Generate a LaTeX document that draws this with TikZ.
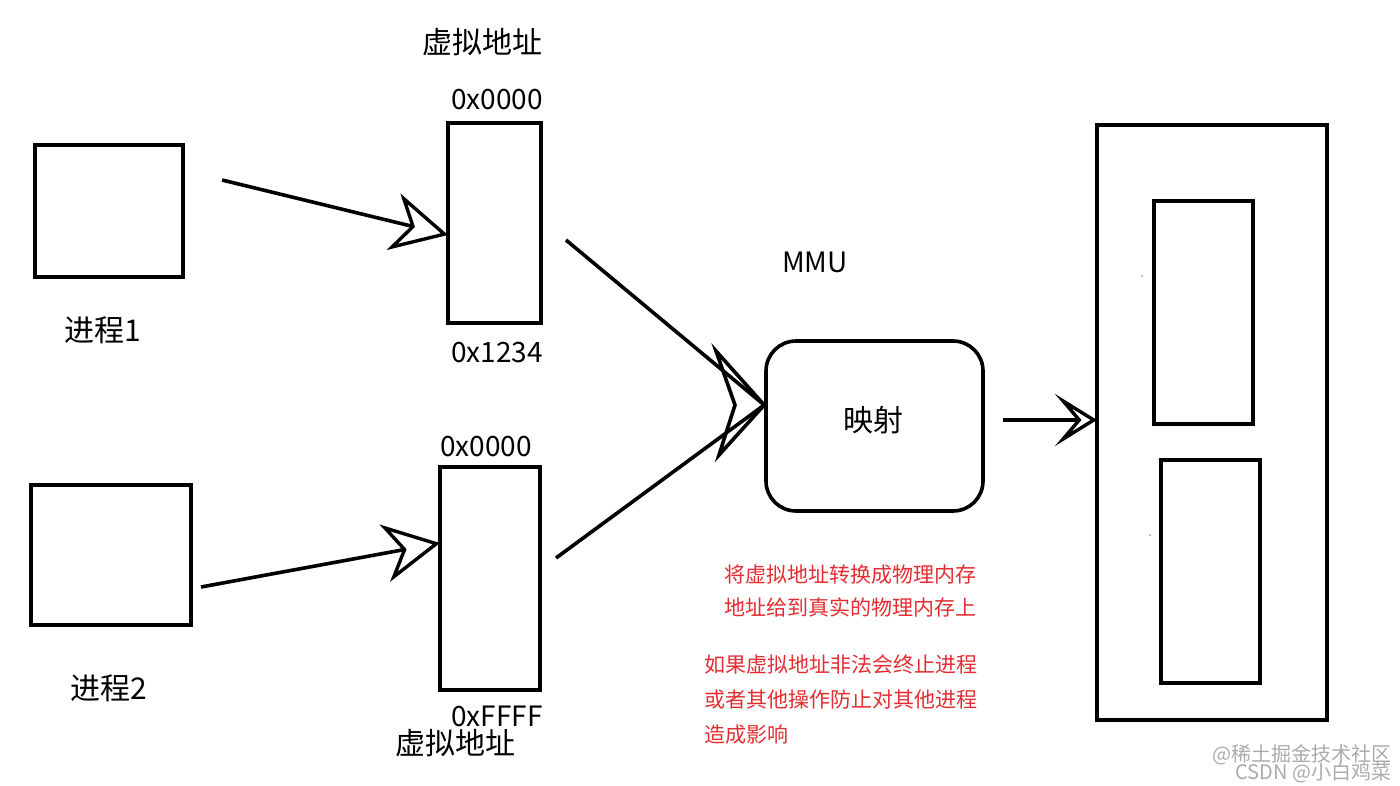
\documentclass[tikz,border=0pt]{standalone}
\usepackage{fontspec}
\setmainfont{Noto Sans CJK SC}
\usetikzlibrary{arrows.meta,calc}
\definecolor{redtxt}{RGB}{228,45,50}
\definecolor{wm}{RGB}{170,170,170}
\begin{document}
\begin{tikzpicture}[x=1pt,y=-1pt,line width=3.6pt,
  box/.style={draw,rectangle,inner sep=0pt,outer sep=0pt},
  lbl/.style={inner sep=0pt,font=\fontsize{30}{34}\selectfont},
  hex/.style={inner sep=0pt,font=\fontsize{28}{32}\selectfont},
  note/.style={inner sep=0pt,text=redtxt,font=\fontsize{21}{25}\selectfont},
  wmark/.style={inner sep=0pt,text=wm,font=\fontsize{20}{24}\selectfont},
  openhead/.style={-{Stealth[open,length=56pt,width=58pt,inset=18pt,line width=3.4pt]}},
  openheadb/.style={-{Stealth[open,length=42pt,width=52pt,inset=22pt,line width=3.4pt]}}]
\useasboundingbox (0,0) rectangle (1400,785);
% processes
\node[box,minimum width=148pt,minimum height=132pt] (p1) at (109,211) {};
\node[lbl] (p1l) at (103,330) {进程1};
\node[box,minimum width=160pt,minimum height=140pt] (p2) at (111,555) {};
\node[lbl] (p2l) at (109,688) {进程2};
% virtual address boxes
\node[lbl] (vat) at (482,42) {虚拟地址};
\node[box,minimum width=93pt,minimum height=200pt] (va1) at (494.5,223) {};
\node[hex] (va1t) at (497,100) {0x0000};
\node[hex] (va1b) at (497,353) {0x1234};
\node[box,minimum width=100pt,minimum height=223pt] (va2) at (490,578.5) {};
\node[hex] (va2t) at (486,447) {0x0000};
\node[hex] (va2b) at (497,716) {0xFFFF};
\node[lbl] (vab) at (455,743) {虚拟地址};
% MMU
\node[hex] (mmul) at (815,262) {MMU};
\node[draw,rounded corners=30pt,minimum width=217pt,minimum height=170pt,inner sep=0pt] (mmu) at (874.5,426) {};
\node[lbl] (map) at (873,420) {映射};
% memory
\node[box,minimum width=230pt,minimum height=595pt] (mem) at (1212,422.5) {};
\node[box,minimum width=99pt,minimum height=223pt] (m1) at (1203.5,312.5) {};
\node[box,minimum width=99pt,minimum height=223pt] (m2) at (1210.5,571.5) {};
\fill[wm] (1142,276) circle (1.2pt);
\fill[wm] (1150,535) circle (1.2pt);
% arrows
\coordinate (t1) at (222,180);
\coordinate (t2) at (201,587);
\draw[openhead] (t1) -- (va1.west |- 0,235);
\draw[openhead] (t2) -- (va2.west |- 0,543);
\coordinate (s1) at (566,240);
\coordinate (s2) at (556,558);
\coordinate (tip) at (mmu.west |- 0,405);
\draw (s1) -- (tip);
\draw (s2) -- (tip);
\draw[line join=miter] (tip) -- (716,351) -- (735,405) -- (719,455) -- cycle;
\coordinate (t3) at (1003,420);
\draw[openheadb] (t3) -- (mem.west |- 0,420);
% notes
\node[note,anchor=east] (n1) at (978,575) {将虚拟地址转换成物理内存};
\node[note,anchor=east] (n2) at (978,607) {地址给到真实的物理内存上};
\node[note,anchor=west] (n3) at (703,665) {如果虚拟地址非法会终止进程};
\node[note,anchor=west] (n4) at (703,700) {或者其他操作防止对其他进程};
\node[note,anchor=west] (n5) at (703,735) {造成影响};
% watermark
\node[wmark,anchor=east] (w1) at (1393,755) {@稀土掘金技术社区};
\node[wmark,anchor=east] (w2) at (1393,773) {CSDN @小白鸡菜};
\end{tikzpicture}
\end{document}
